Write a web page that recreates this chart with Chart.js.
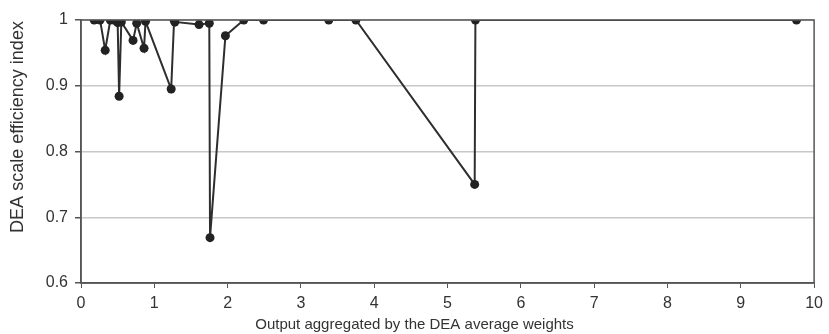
<!DOCTYPE html>
<html>
<head>
<meta charset="utf-8">
<script src="https://cdn.jsdelivr.net/npm/chart.js@4.4.1/dist/chart.umd.min.js"></script>
<style>
  html, body { margin: 0; padding: 0; background: #fff; }
  #wrap { width: 829px; height: 334px; }
</style>
</head>
<body>
<div id="wrap"><canvas id="scaleChart" width="829" height="334"></canvas></div>
<script>
// valori: output aggregato (x) e indice di efficienza di scala (y)
const outputAgg = [0.18, 0.26, 0.33, 0.40, 0.45, 0.50, 0.52, 0.55, 0.71, 0.76, 0.86, 0.88,
  1.23, 1.27, 1.28, 1.61, 1.75, 1.76, 1.97, 2.22, 2.49, 3.38, 3.75, 5.37, 5.38, 9.76];
const scaleEff = [1, 1, 0.954, 1, 1, 0.996, 0.884, 0.997, 0.969, 0.995, 0.957, 0.998,
  0.895, 1, 0.997, 0.993, 0.995, 0.669, 0.976, 1, 1, 1, 1, 0.75, 1, 1];
const xTicks = [0, 1, 2, 3, 4, 5, 6, 7, 8, 9, 10];
const yTicks = [0.6, 0.7, 0.8, 0.9, 1];
const xTitle = 'Output aggregated by the DEA average weights';
const yTitle = 'DEA scale efficiency index';

const points = outputAgg.map((x, i) => ({ x: x, y: scaleEff[i] }));

// cornice attorno all'area del grafico + titoli degli assi (centrati come nell'originale)
const frame = {
  id: 'frame',
  afterDatasetsDraw(chart) {
    const a = chart.chartArea;
    const c = chart.ctx;
    c.save();
    c.strokeStyle = '#555';
    c.lineWidth = 1.5;
    c.strokeRect(a.left, a.top, a.right - a.left, a.bottom - a.top);

    c.fillStyle = '#333';
    c.textAlign = 'center';
    c.textBaseline = 'middle';
    c.font = '15px "Liberation Sans"';
    c.fillText(xTitle, chart.width / 2, 325);

    c.translate(18, 127);
    c.rotate(-Math.PI / 2);
    c.font = '18px "Liberation Sans"';
    c.fillText(yTitle, 0, 0);
    c.restore();
  }
};

const ctx = document.getElementById('scaleChart').getContext('2d');
new Chart(ctx, {
  type: 'scatter',
  data: {
    datasets: [{
      data: points,
      showLine: true,
      borderColor: '#2e2e2e',
      borderWidth: 2,
      pointRadius: 4.5,
      pointBackgroundColor: '#222',
      pointBorderColor: '#222',
      pointBorderWidth: 0
    }]
  },
  options: {
    responsive: false,
    animation: false,
    layout: { padding: { top: 20, right: 13, left: 0, bottom: 0 } },
    plugins: { legend: { display: false }, tooltip: { enabled: false } },
    scales: {
      x: {
        type: 'linear',
        min: 0,
        max: 10,
        afterBuildTicks: s => { s.ticks = xTicks.map(v => ({ value: v })); },
        afterFit: s => { s.height = 51; },
        grid: { drawOnChartArea: false, drawTicks: true, tickLength: 5, tickColor: '#555' },
        border: { color: '#555', width: 1.5 },
        ticks: { color: '#333', padding: 6, font: { family: 'Liberation Sans', size: 16 } }
      },
      y: {
        min: 0.6,
        max: 1,
        afterBuildTicks: s => { s.ticks = yTicks.map(v => ({ value: v })); },
        afterFit: s => { s.width = 81; },
        grid: { color: '#c8c8c8', lineWidth: 1.5, tickLength: 6, tickColor: '#555' },
        border: { color: '#555', width: 1.5 },
        ticks: {
          color: '#333',
          padding: 7,
          font: { family: 'Liberation Sans', size: 16 },
          callback: v => String(Math.round(v * 10) / 10)
        }
      }
    }
  },
  plugins: [frame]
});
</script>
</body>
</html>
